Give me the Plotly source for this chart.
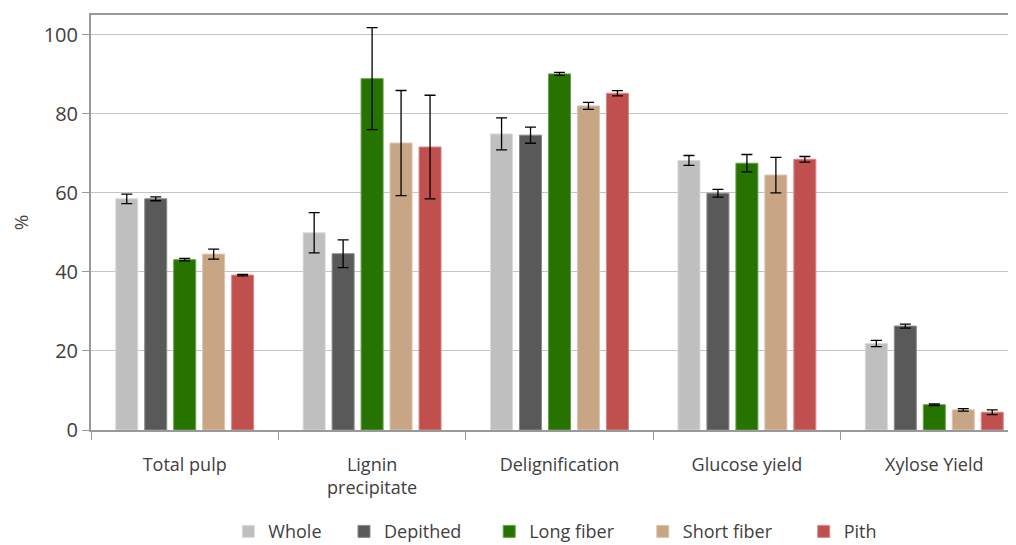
import plotly.graph_objects as go

categories = ["Total pulp", "Lignin<br>precipitate", "Delignification", "Glucose yield", "Xylose Yield"]
series_names = ["Whole", "Depithed", "Long fiber", "Short fiber", "Pith"]

whole = [58.5, 49.9, 74.9, 68.2, 21.9]
whole_err = [1.2, 5.1, 4.05, 1.25, 0.8]
depithed = [58.5, 44.6, 74.6, 59.9, 26.3]
depithed_err = [0.5, 3.5, 2.05, 1.0, 0.5]
long_fiber = [43.1, 88.9, 90.1, 67.5, 6.4]
long_fiber_err = [0.3, 12.9, 0.4, 2.2, 0.2]
short_fiber = [44.5, 72.6, 82.0, 64.5, 5.1]
short_fiber_err = [1.25, 13.3, 0.9, 4.5, 0.3]
pith = [39.2, 71.6, 85.2, 68.5, 4.5]
pith_err = [0.2, 13.1, 0.65, 0.7, 0.6]

colors = ["#bfbfbf", "#595959", "#267300", "#c8a585", "#c0504d"]
edge_colors = ["#d9d9d9", "#8a8a8a", "#6aa050", "#dcc4ae", "#d88a88"]

values = [whole, depithed, long_fiber, short_fiber, pith]
errors = [whole_err, depithed_err, long_fiber_err, short_fiber_err, pith_err]

FONT = "Open Sans"
TXT = "#404040"

# one legend per series so each entry can sit where the reference has it
legend_ids = ["legend", "legend2", "legend3", "legend4", "legend5"]
legend_x = [0.1485, 0.2735, 0.4305, 0.5965, 0.7705]

fig = go.Figure()
for name, v, e, c, ec, lid in zip(series_names, values, errors, colors, edge_colors, legend_ids):
    fig.add_trace(go.Bar(
        name=name, x=categories, y=v, legend=lid,
        marker=dict(color=c, line=dict(color=ec, width=1)),
        error_y=dict(type="data", array=e, visible=True, color="#000000",
                     thickness=1.3, width=5.5),
    ))

n = len(categories)
legend_layout = {}
for lid, lx in zip(legend_ids, legend_x):
    legend_layout[lid] = dict(orientation="h", x=lx, xanchor="left", y=-0.245, yanchor="middle",
                              font=dict(family=FONT, size=18, color=TXT),
                              bgcolor="rgba(0,0,0,0)", borderwidth=0)

# page body has an 8px default margin, so the figure is offset by 8px
fig.update_layout(
    barmode="group",
    bargap=0.227,
    bargroupgap=0.24,
    width=1008, height=537,
    margin=dict(l=83, r=0, t=7, b=115, autoexpand=False),
    plot_bgcolor="white", paper_bgcolor="white",
    font=dict(family=FONT, size=18, color=TXT),
    showlegend=True,
    xaxis=dict(
        type="category", range=[-0.5, n - 0.5 - 12 / 187.3],
        tickson="boundaries", ticks="outside", ticklen=8, tickcolor="#999999",
        showline=True, linecolor="#999999", linewidth=2, mirror=True,
        showgrid=False, tickfont=dict(family=FONT, size=18, color=TXT),
        ticklabelstandoff=17, automargin=False,
    ),
    yaxis=dict(
        range=[0, 105], tickvals=[0, 20, 40, 60, 80, 100],
        ticks="outside", ticklen=7, tickcolor="#999999",
        showline=True, linecolor="#999999", linewidth=2,
        showgrid=True, gridcolor="#c4c4c4", gridwidth=1,
        zeroline=False, automargin=False,
        tickfont=dict(family=FONT, size=20, color=TXT),
        title=dict(text="%", font=dict(family=FONT, size=19, color=TXT), standoff=22),
    ),
    **legend_layout,
)

fig.write_html("out.html")
